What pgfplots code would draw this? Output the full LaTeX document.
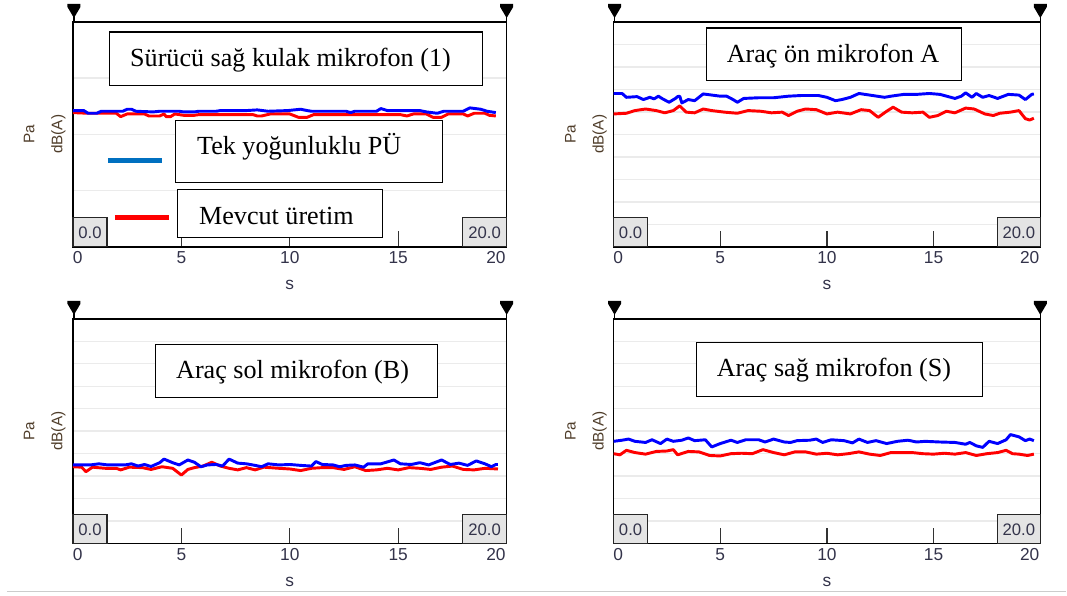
\documentclass[border=0pt]{standalone}
\usepackage{fontspec}
\setmainfont{Liberation Serif}
\newfontfamily\axfont{Liberation Sans}
\usepackage{pgfplots}
\pgfplotsset{compat=1.18}
\definecolor{tickc}{HTML}{33334A}
\definecolor{labc}{HTML}{4F3D2A}
\definecolor{gridc}{HTML}{EBEBEB}
\definecolor{legblue}{HTML}{0070C0}
\definecolor{boxgray}{HTML}{E4E4E4}
\pgfplotsset{
  panel/.style={
    scale only axis, anchor=south west,
    height=168.75pt,
    xmin=0,xmax=20,ymin=0,ymax=10,
    xtick={0,5,10,15,20},
    xticklabels={\hspace*{7pt}0,5,10,15,20\hspace*{16pt}},
    ytick={1,...,9}, yticklabels={},
    ymajorgrids, grid style={gridc, line width=1.1pt},
    xtick pos=bottom, ytick pos=left,
    tick align=inside,
    major tick length=12pt,
    ytick style={draw=none},
    xtick style={black!80, line width=1pt},
    axis line style={black, line width=1.1pt},
    ticklabel style={font=\axfont\fontsize{13}{15}\selectfont, text=tickc},
    /pgf/number format/assume math mode=true,
    xlabel={s},
    every axis x label/.style={at={(axis description cs:0.5,0)}, anchor=center, yshift=-28.5pt, font=\axfont\fontsize{13}{15}\selectfont, text=tickc},
    ylabel={Pa\\dB(A)},
    every axis y label/.style={at={(axis description cs:-0.065,0.5)}, anchor=center, rotate=90, align=center, font=\axfont\fontsize{11.5}{21}\selectfont, text=labc},
  },
  bl/.style={color=blue, line width=2.2pt, line join=round, mark=none},
  rd/.style={color=red, line width=2.2pt, line join=round, mark=none},
}
\newcommand\cursor[2]{%
  \fill[black] ({#1-6.5},{#2+4}) -- ({#1+6.5},{#2+4}) -- ({#1+6.5},{#2+7}) -- ({#1},{#2+18}) -- ({#1-6.5},{#2+7}) -- cycle;
  \draw[black,line width=0.9pt] ({#1},{#2+16}) -- ({#1},{#2+22});}
\newcommand\valbox[4]{%
  \draw[fill=boxgray, draw=black!85, line width=0.9pt] (#1,{#3-29}) rectangle (#2,#3);
  \node[font=\axfont\fontsize{12.5}{14}\selectfont, text=tickc] at ({(#1+#2)/2},{#3-14}) {#4};}
\newcommand\tbox[7]{%
  \draw[fill=white, draw=black, line width=0.8pt] (#1,#2) rectangle (#3,#4);
  \node[anchor=base west, inner sep=0pt, font=\fontsize{19.6}{22}\selectfont] at (#5,#6) {#7};}
\begin{document}
\begin{tikzpicture}
\begin{scope}[x=0.75pt,y=-0.75pt]
\path (0,0) rectangle (1067,596);
\end{scope}
% ---------------- top left
\begin{axis}[panel, at={(54.75pt,-185.25pt)}, width=325.5pt, ytick={2.5,5,7.5}]
\addplot[rd] coordinates {(0,5.97)(0.7,5.94)(2.0,5.94)(2.2,5.79)(2.5,5.91)(3.3,5.91)(3.5,5.82)(4.0,5.82)(4.2,5.91)(4.3,5.79)(4.5,5.79)(4.7,5.91)(5.1,5.85)(5.6,5.85)(5.8,5.88)(8.3,5.88)(8.5,5.82)(8.7,5.82)(9.1,5.91)(10.0,5.91)(10.4,5.76)(10.8,5.76)(11.1,5.88)(15.1,5.88)(15.4,5.82)(15.7,5.91)(16.3,5.91)(16.6,5.76)(17.0,5.76)(17.3,5.91)(18.0,5.91)(18.2,5.82)(18.5,5.94)(19.0,5.94)(19.2,5.85)(19.5,5.82)};
\addplot[bl] coordinates {(0,6.06)(0.5,6.06)(0.7,5.94)(1.1,5.94)(1.3,6.03)(2.3,6.03)(2.5,6.12)(2.7,6.12)(2.9,6.03)(3.7,6.00)(4.0,6.03)(4.9,6.03)(5.1,6.0)(5.6,6.0)(5.8,6.03)(6.6,6.03)(6.8,6.06)(8.0,6.06)(8.5,6.09)(9.0,6.03)(9.9,6.06)(10.5,6.12)(10.8,6.06)(11.0,6.03)(12.6,6.03)(12.8,5.97)(13.0,6.03)(14.0,6.03)(14.2,6.15)(14.5,6.06)(16.0,6.06)(16.3,6.0)(16.8,5.94)(17.1,6.03)(18.0,6.03)(18.3,6.18)(18.8,6.12)(19.1,6.03)(19.5,5.97)};
\end{axis}
% ---------------- top right
\begin{axis}[panel, at={(460.5pt,-185.25pt)}, width=320.25pt]
\addplot[rd] coordinates {(0,5.91)(0.6,5.94)(1.0,6.06)(1.5,6.13)(2.0,6.06)(2.4,5.96)(2.8,6.06)(3.1,6.27)(3.4,5.99)(3.8,5.96)(4.2,6.13)(4.6,6.06)(5.2,5.99)(5.8,5.94)(6.3,6.06)(6.9,6.03)(7.4,5.96)(7.9,5.99)(8.2,5.84)(8.6,6.03)(9.0,6.13)(9.5,6.10)(10.0,5.91)(10.5,5.99)(11.1,5.91)(11.6,6.10)(12.0,6.06)(12.4,5.76)(12.8,6.03)(13.1,6.21)(13.5,5.99)(14.0,5.96)(14.5,5.99)(14.8,5.76)(15.2,5.84)(15.6,6.03)(16.0,5.96)(16.5,6.17)(16.9,6.13)(17.4,5.91)(17.8,5.84)(18.1,5.94)(18.6,5.99)(19.0,6.06)(19.3,5.70)(19.5,5.64)(19.7,5.72)};
\addplot[bl] coordinates {(0,6.82)(0.4,6.82)(0.6,6.65)(1.1,6.68)(1.4,6.55)(1.7,6.65)(1.9,6.58)(2.1,6.70)(2.3,6.58)(2.6,6.43)(2.9,6.60)(3.0,6.68)(3.1,6.70)(3.2,6.40)(3.5,6.55)(3.8,6.50)(4.0,6.65)(4.2,6.80)(4.6,6.75)(5.0,6.70)(5.3,6.70)(5.6,6.55)(5.8,6.43)(6.1,6.60)(6.8,6.63)(7.5,6.63)(8.2,6.70)(8.8,6.73)(9.6,6.73)(10.0,6.65)(10.4,6.50)(10.7,6.55)(11.1,6.65)(11.5,6.82)(12.0,6.75)(12.7,6.65)(13.0,6.70)(13.6,6.78)(14.2,6.78)(14.8,6.82)(15.3,6.78)(16.0,6.60)(16.3,6.70)(16.5,6.85)(16.8,6.65)(17.0,6.82)(17.3,6.65)(17.6,6.73)(18.0,6.60)(18.5,6.78)(19.0,6.75)(19.3,6.55)(19.6,6.78)(19.7,6.80)};
\end{axis}
% ---------------- bottom left
\begin{axis}[panel, at={(54.75pt,-408pt)}, width=325.5pt]
\addplot[rd] coordinates {(0,3.42)(0.4,3.40)(0.6,3.20)(0.9,3.40)(1.5,3.35)(2.0,3.35)(2.2,3.28)(2.6,3.40)(3.2,3.38)(3.6,3.30)(4.1,3.42)(4.6,3.35)(5.0,3.05)(5.3,3.30)(5.6,3.38)(6.0,3.45)(6.4,3.62)(6.8,3.45)(7.2,3.35)(7.6,3.28)(8.0,3.38)(8.4,3.28)(8.8,3.40)(9.5,3.35)(10.0,3.32)(10.5,3.25)(11.0,3.35)(11.5,3.38)(12.0,3.38)(12.5,3.30)(13.0,3.42)(13.5,3.25)(14.0,3.28)(14.5,3.35)(15.0,3.28)(15.5,3.38)(16.0,3.35)(16.5,3.30)(17.0,3.40)(17.5,3.45)(18.0,3.30)(18.5,3.28)(19.0,3.35)(19.6,3.32)};
\addplot[bl] coordinates {(0,3.50)(0.8,3.50)(1.2,3.55)(1.6,3.50)(2.4,3.50)(2.7,3.55)(3.0,3.45)(3.3,3.52)(3.6,3.43)(4.0,3.60)(4.2,3.76)(4.6,3.60)(4.9,3.50)(5.3,3.72)(5.6,3.62)(5.9,3.42)(6.2,3.50)(6.6,3.52)(6.9,3.45)(7.2,3.76)(7.6,3.58)(8.0,3.55)(8.4,3.48)(8.7,3.42)(9.0,3.55)(9.5,3.50)(10.0,3.52)(10.5,3.48)(11.0,3.45)(11.2,3.65)(11.5,3.52)(12.0,3.50)(12.3,3.42)(12.6,3.48)(13.0,3.50)(13.4,3.40)(13.6,3.55)(14.2,3.55)(14.8,3.72)(15.1,3.55)(15.6,3.52)(16.0,3.60)(16.4,3.50)(17.0,3.72)(17.4,3.52)(17.8,3.58)(18.2,3.48)(18.6,3.68)(19.0,3.55)(19.3,3.42)(19.5,3.52)(19.6,3.52)};
\end{axis}
% ---------------- bottom right
\begin{axis}[panel, at={(460.5pt,-408pt)}, width=320.25pt]
\addplot[rd] coordinates {(0,4.00)(0.3,3.95)(0.6,4.15)(1.0,4.05)(1.5,3.98)(2.0,4.10)(2.5,4.12)(2.8,4.18)(3.0,3.95)(3.5,4.10)(4.0,4.08)(4.5,3.92)(5.0,3.90)(5.5,4.00)(6.0,4.02)(6.5,4.00)(7.0,4.18)(7.5,4.05)(8.0,3.95)(8.5,4.08)(9.0,4.08)(9.5,3.98)(10.0,4.02)(10.5,3.95)(11.0,4.00)(11.5,4.08)(12.0,3.98)(12.5,3.92)(13.0,4.05)(13.5,4.05)(14.0,4.05)(14.5,4.00)(15.0,3.98)(15.5,4.02)(16.0,3.98)(16.5,4.05)(17.0,3.92)(17.5,4.00)(18.0,4.05)(18.4,4.15)(18.7,4.00)(19.0,3.98)(19.4,3.92)(19.7,3.98)};
\addplot[bl] coordinates {(0,4.55)(0.4,4.60)(0.7,4.65)(1.0,4.55)(1.5,4.50)(1.8,4.62)(2.2,4.45)(2.5,4.65)(2.8,4.55)(3.2,4.60)(3.5,4.70)(3.8,4.58)(4.3,4.62)(4.6,4.30)(5.0,4.45)(5.5,4.60)(5.8,4.50)(6.2,4.62)(6.8,4.62)(7.1,4.52)(7.5,4.65)(8.0,4.52)(8.3,4.50)(8.6,4.58)(9.2,4.60)(9.5,4.65)(9.8,4.50)(10.2,4.62)(10.8,4.58)(11.2,4.48)(11.5,4.65)(11.9,4.50)(12.3,4.58)(12.8,4.45)(13.3,4.55)(13.8,4.60)(14.2,4.52)(14.6,4.55)(15.3,4.52)(16.0,4.50)(16.5,4.42)(16.7,4.50)(17.0,4.35)(17.3,4.28)(17.6,4.55)(18.0,4.45)(18.4,4.62)(18.6,4.85)(19.0,4.75)(19.3,4.58)(19.5,4.65)(19.7,4.58)};
\end{axis}
% ---------------- decorations
\begin{scope}[x=0.75pt,y=-0.75pt]
\cursor{74}{0}\cursor{507}{0}\cursor{615}{0}\cursor{1041}{0}
\cursor{74}{297}\cursor{507}{297}\cursor{615}{297}\cursor{1041}{297}
\valbox{73}{107}{247}{0.0}\valbox{463}{507}{247}{20.0}
\valbox{614}{648}{247}{0.0}\valbox{998}{1041}{247}{20.0}
\valbox{73}{107}{544}{0.0}\valbox{463}{507}{544}{20.0}
\valbox{614}{648}{544}{0.0}\valbox{998}{1041}{544}{20.0}
\tbox{110}{32}{483}{86}{130}{67}{Sürücü sağ kulak mikrofon (1)}
\tbox{176}{121}{443}{183}{197}{155}{Tek yoğunluklu PÜ}
\tbox{178}{190}{383}{238}{199}{225}{Mevcut üretim}
\draw[legblue, line width=3.75pt] (108,161) -- (162,161);
\draw[red, line width=3.75pt] (115,218) -- (169,218);
\tbox{707}{28}{962}{81}{727}{63}{Araç ön mikrofon A}
\tbox{156}{345}{438}{398}{176}{379}{Araç sol mikrofon (B)}
\tbox{697}{343}{983}{397}{717}{377}{Araç sağ mikrofon (S)}
\draw[gray!40, line width=1.1pt] (7,592) -- (1067,592);
\end{scope}
\end{tikzpicture}
\end{document}
